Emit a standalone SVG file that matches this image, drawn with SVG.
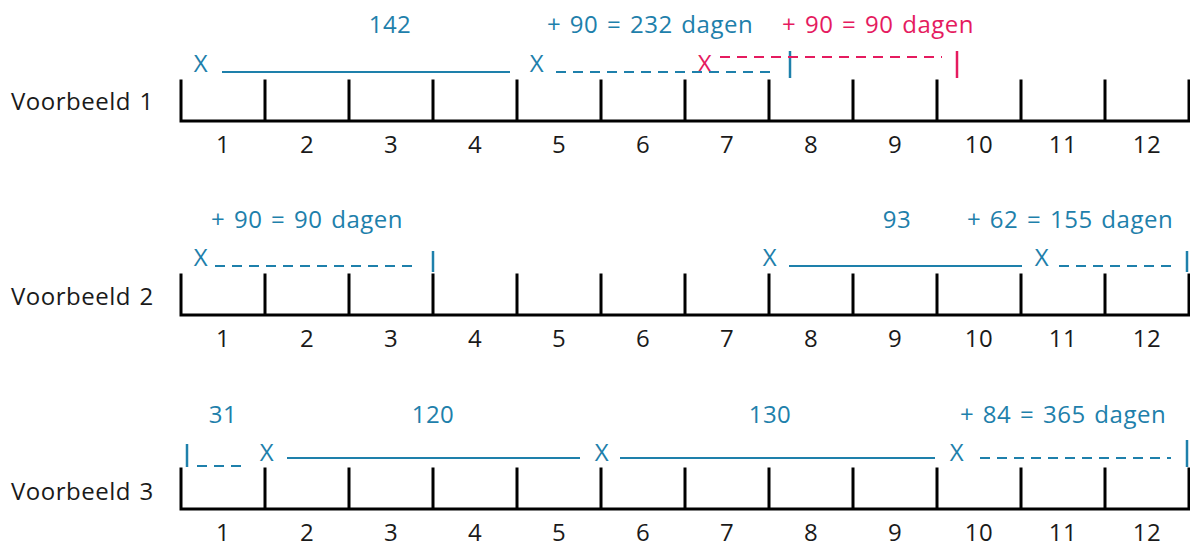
<svg xmlns="http://www.w3.org/2000/svg" width="1190" height="545" viewBox="0 0 1190 545">
  <style>
    text { font-family: "Open Sans", "Noto Sans", "Liberation Sans", sans-serif; font-size: 24px; letter-spacing: 0.5px; word-spacing: 2px; }
    .lbl { fill: #1a1a1a; }
    .num { fill: #1a1a1a; text-anchor: middle; }
    .b { fill: #1e80ab; text-anchor: middle; }
    .r { fill: #e51b5f; text-anchor: middle; }
    .axis { fill: none; stroke: #000; stroke-width: 3; stroke-linecap: square; }
    .sb { stroke: #1e80ab; stroke-width: 2.2; fill: none; }
    .db { stroke: #1e80ab; stroke-width: 2.2; fill: none; stroke-dasharray: 10 7; }
    .dr { stroke: #e51b5f; stroke-width: 2.2; fill: none; stroke-dasharray: 10 7; }
    .vb { stroke: #1e80ab; stroke-width: 2.5; }
    .vr { stroke: #e51b5f; stroke-width: 2.5; }
  </style>
  <defs>
    <!-- one year axis: 12 months of 84px, ticks 40px tall -->
    <g id="axis">
      <path class="axis" d="M181 0 V40 H1189 V0 M265 0 V40 M349 0 V40 M433 0 V40 M517 0 V40 M601 0 V40 M685 0 V40 M769 0 V40 M853 0 V40 M937 0 V40 M1021 0 V40 M1105 0 V40"/>
      <g class="num">
        <text x="223" y="72">1</text><text x="307" y="72">2</text><text x="391" y="72">3</text>
        <text x="475" y="72">4</text><text x="559" y="72">5</text><text x="643" y="72">6</text>
        <text x="727" y="72">7</text><text x="811" y="72">8</text><text x="895" y="72">9</text>
        <text x="979" y="72">10</text><text x="1063" y="72">11</text><text x="1147" y="72">12</text>
      </g>
    </g>
  </defs>

  <!-- Voorbeeld 1 -->
  <g id="row1">
    <text class="lbl" x="11" y="110">Voorbeeld 1</text>
    <use href="#axis" y="81"/>
    <text class="b" x="390" y="33">142</text>
    <text class="b" x="650" y="33">+ 90 = 232 dagen</text>
    <text class="r" x="878" y="33">+ 90 = 90 dagen</text>
    <text class="b" x="201" y="72">X</text>
    <text class="b" x="537" y="72">X</text>
    <text class="r" x="705" y="72">X</text>
  </g>

  <!-- Voorbeeld 2 -->
  <g id="row2">
    <text class="lbl" x="11" y="305">Voorbeeld 2</text>
    <use href="#axis" y="275"/>
    <text class="b" x="307" y="228">+ 90 = 90 dagen</text>
    <text class="b" x="897" y="228">93</text>
    <text class="b" x="1070" y="228">+ 62 = 155 dagen</text>
    <text class="b" x="201" y="266">X</text>
    <text class="b" x="770" y="266">X</text>
    <text class="b" x="1042" y="266">X</text>
  </g>

  <!-- Voorbeeld 3 -->
  <g id="row3">
    <text class="lbl" x="11" y="500">Voorbeeld 3</text>
    <use href="#axis" y="469"/>
    <text class="b" x="223" y="423">31</text>
    <text class="b" x="433" y="423">120</text>
    <text class="b" x="770" y="423">130</text>
    <text class="b" x="1063" y="423">+ 84 = 365 dagen</text>
    <text class="b" x="267" y="461">X</text>
    <text class="b" x="602" y="461">X</text>
    <text class="b" x="957" y="461">X</text>
  </g>

  <!-- periods between the dates -->
  <g id="connectors">
    <line class="sb" x1="222" y1="72" x2="510" y2="72"/>
    <line class="db" x1="556" y1="72" x2="770" y2="72"/>
    <line class="vb" x1="790" y1="51" x2="790" y2="78"/>
    <line class="dr" x1="720" y1="57" x2="942" y2="57"/>
    <line class="vr" x1="957" y1="51" x2="957" y2="78"/>

    <line class="db" x1="215" y1="266" x2="418" y2="266"/>
    <line class="vb" x1="433" y1="251" x2="433" y2="272"/>
    <line class="sb" x1="789" y1="266" x2="1022" y2="266"/>
    <line class="db" x1="1059" y1="266" x2="1178" y2="266"/>
    <line class="vb" x1="1187" y1="251" x2="1187" y2="272"/>

    <line class="vb" x1="187" y1="444" x2="187" y2="467"/>
    <line class="db" x1="197" y1="466" x2="246" y2="466"/>
    <line class="sb" x1="287" y1="458" x2="580" y2="458"/>
    <line class="sb" x1="620" y1="458" x2="935" y2="458"/>
    <line class="db" x1="980" y1="458" x2="1171" y2="458"/>
    <line class="vb" x1="1187" y1="440" x2="1187" y2="467"/>
  </g>
</svg>
